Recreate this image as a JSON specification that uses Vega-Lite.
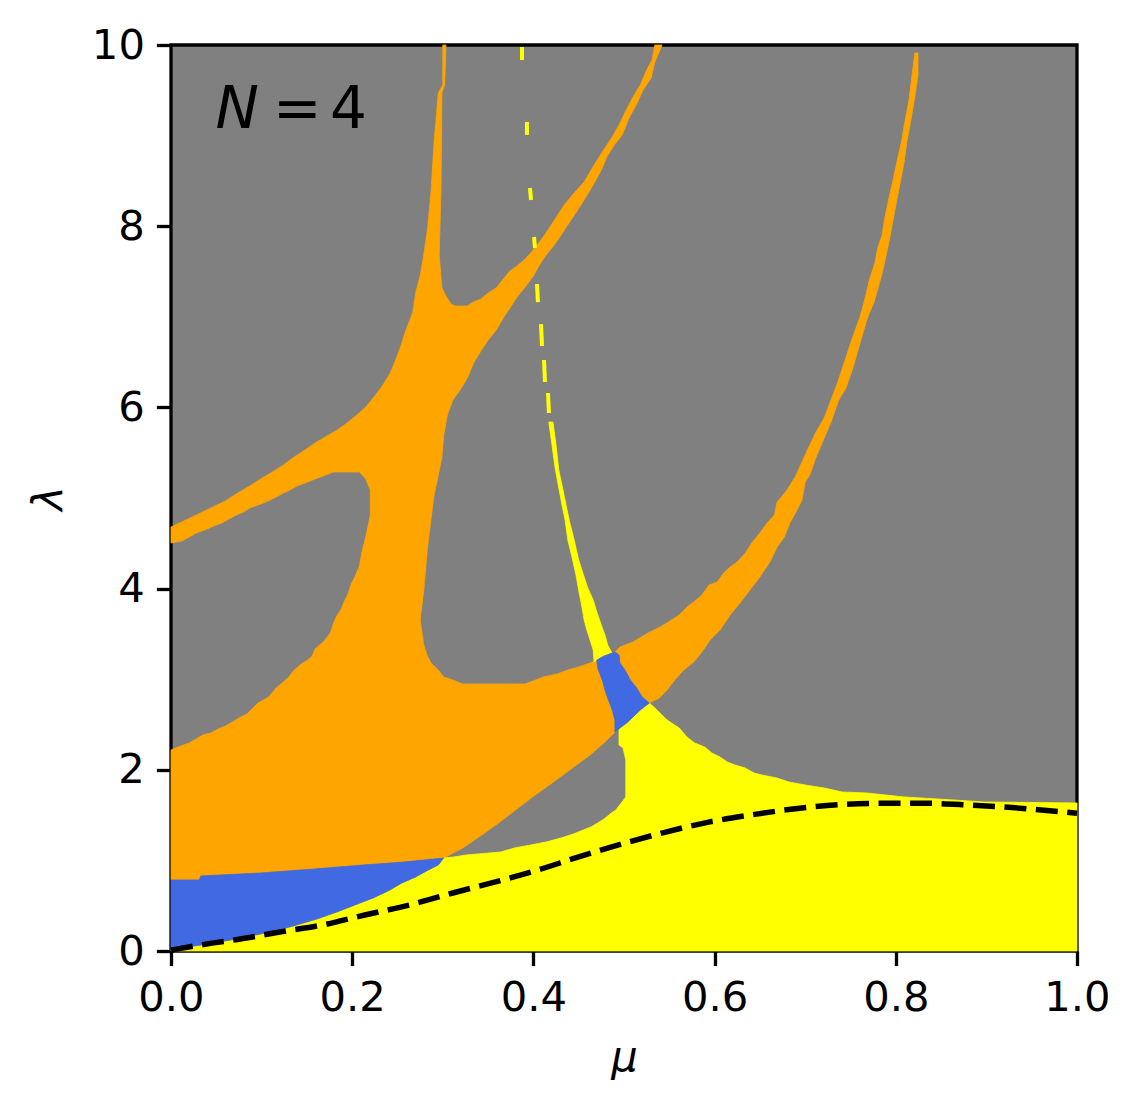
{
  "$schema": "https://vega.github.io/schema/vega-lite/v6.json",
  "autosize": {"type": "none"},
  "width": 906,
  "height": 906,
  "padding": {"left": 171, "top": 45, "right": 62, "bottom": 161},
  "background": "white",
  "config": {
    "view": {"stroke": "black", "strokeWidth": 3.3, "fill": "#808080"},
    "font": "DejaVu Sans",
    "axis": {
      "domain": false, "grid": false, "labelFlush": false, "labelOverlap": false,
      "ticks": true, "tickColor": "black", "tickWidth": 3.3, "tickSize": 14.6,
      "labelFont": "DejaVu Sans", "labelFontSize": 41.7, "labelColor": "black", "labelPadding": 12,
      "titleFont": "DejaVu Sans", "titleFontSize": 41.7, "titleFontStyle": "italic", "titleFontWeight": "normal", "titleColor": "black"
    }
  },
  "datasets": {
    "poly": [
      {"id":"O1","i":1,"mu":0,"lam":0.784},{"id":"O1","i":2,"mu":0,"lam":2.219},{"id":"O1","i":3,"mu":0.011,"lam":2.263},{"id":"O1","i":4,"mu":0.020,"lam":2.296},{"id":"O1","i":5,"mu":0.028,"lam":2.340},{"id":"O1","i":6,"mu":0.035,"lam":2.384},{"id":"O1","i":7,"mu":0.044,"lam":2.406},{"id":"O1","i":8,"mu":0.052,"lam":2.450},{"id":"O1","i":9,"mu":0.060,"lam":2.483},{"id":"O1","i":10,"mu":0.068,"lam":2.528},
      {"id":"O1","i":11,"mu":0.075,"lam":2.572},{"id":"O1","i":12,"mu":0.084,"lam":2.616},{"id":"O1","i":13,"mu":0.096,"lam":2.737},{"id":"O1","i":14,"mu":0.108,"lam":2.804},{"id":"O1","i":15,"mu":0.116,"lam":2.903},{"id":"O1","i":16,"mu":0.124,"lam":2.969},{"id":"O1","i":17,"mu":0.130,"lam":3.024},{"id":"O1","i":18,"mu":0.136,"lam":3.102},{"id":"O1","i":19,"mu":0.144,"lam":3.168},{"id":"O1","i":20,"mu":0.151,"lam":3.212},
      {"id":"O1","i":21,"mu":0.156,"lam":3.256},{"id":"O1","i":22,"mu":0.159,"lam":3.333},{"id":"O1","i":23,"mu":0.168,"lam":3.411},{"id":"O1","i":24,"mu":0.176,"lam":3.510},{"id":"O1","i":25,"mu":0.179,"lam":3.609},{"id":"O1","i":26,"mu":0.183,"lam":3.698},{"id":"O1","i":27,"mu":0.188,"lam":3.775},{"id":"O1","i":28,"mu":0.191,"lam":3.852},{"id":"O1","i":29,"mu":0.195,"lam":3.929},{"id":"O1","i":30,"mu":0.199,"lam":4.051},
      {"id":"O1","i":31,"mu":0.203,"lam":4.128},{"id":"O1","i":32,"mu":0.208,"lam":4.249},{"id":"O1","i":33,"mu":0.211,"lam":4.415},{"id":"O1","i":34,"mu":0.215,"lam":4.570},{"id":"O1","i":35,"mu":0.220,"lam":4.812},{"id":"O1","i":36,"mu":0.220,"lam":5.088},{"id":"O1","i":37,"mu":0.215,"lam":5.210},{"id":"O1","i":38,"mu":0.212,"lam":5.243},{"id":"O1","i":39,"mu":0.208,"lam":5.287},{"id":"O1","i":40,"mu":0.179,"lam":5.287},
      {"id":"O1","i":41,"mu":0.168,"lam":5.243},{"id":"O1","i":42,"mu":0.159,"lam":5.210},{"id":"O1","i":43,"mu":0.148,"lam":5.166},{"id":"O1","i":44,"mu":0.139,"lam":5.132},{"id":"O1","i":45,"mu":0.131,"lam":5.088},{"id":"O1","i":46,"mu":0.124,"lam":5.055},{"id":"O1","i":47,"mu":0.116,"lam":5.011},{"id":"O1","i":48,"mu":0.107,"lam":4.967},{"id":"O1","i":49,"mu":0.099,"lam":4.934},{"id":"O1","i":50,"mu":0.087,"lam":4.890},
      {"id":"O1","i":51,"mu":0.080,"lam":4.845},{"id":"O1","i":52,"mu":0.072,"lam":4.812},{"id":"O1","i":53,"mu":0.064,"lam":4.768},{"id":"O1","i":54,"mu":0.056,"lam":4.724},{"id":"O1","i":55,"mu":0.047,"lam":4.691},{"id":"O1","i":56,"mu":0.040,"lam":4.658},{"id":"O1","i":57,"mu":0.028,"lam":4.614},{"id":"O1","i":58,"mu":0.020,"lam":4.570},{"id":"O1","i":59,"mu":0.012,"lam":4.525},{"id":"O1","i":60,"mu":0,"lam":4.503},
      {"id":"O1","i":61,"mu":0,"lam":4.680},{"id":"O1","i":62,"mu":0.012,"lam":4.735},{"id":"O1","i":63,"mu":0.028,"lam":4.812},{"id":"O1","i":64,"mu":0.044,"lam":4.890},{"id":"O1","i":65,"mu":0.060,"lam":4.967},{"id":"O1","i":66,"mu":0.072,"lam":5.044},{"id":"O1","i":67,"mu":0.087,"lam":5.132},{"id":"O1","i":68,"mu":0.099,"lam":5.210},{"id":"O1","i":69,"mu":0.112,"lam":5.287},{"id":"O1","i":70,"mu":0.124,"lam":5.364},
      {"id":"O1","i":71,"mu":0.136,"lam":5.453},{"id":"O1","i":72,"mu":0.148,"lam":5.530},{"id":"O1","i":73,"mu":0.159,"lam":5.607},{"id":"O1","i":74,"mu":0.172,"lam":5.684},{"id":"O1","i":75,"mu":0.182,"lam":5.740},{"id":"O1","i":76,"mu":0.193,"lam":5.817},{"id":"O1","i":77,"mu":0.204,"lam":5.905},{"id":"O1","i":78,"mu":0.215,"lam":6.004},{"id":"O1","i":79,"mu":0.225,"lam":6.126},{"id":"O1","i":80,"mu":0.234,"lam":6.247},
      {"id":"O1","i":81,"mu":0.242,"lam":6.380},{"id":"O1","i":82,"mu":0.248,"lam":6.523},{"id":"O1","i":83,"mu":0.253,"lam":6.656},{"id":"O1","i":84,"mu":0.259,"lam":6.843},{"id":"O1","i":85,"mu":0.267,"lam":7.053},{"id":"O1","i":86,"mu":0.270,"lam":7.263},{"id":"O1","i":87,"mu":0.275,"lam":7.450},{"id":"O1","i":88,"mu":0.279,"lam":7.682},{"id":"O1","i":89,"mu":0.283,"lam":7.958},{"id":"O1","i":90,"mu":0.287,"lam":8.377},
      {"id":"O1","i":91,"mu":0.290,"lam":8.874},{"id":"O1","i":92,"mu":0.295,"lam":9.470},{"id":"O1","i":93,"mu":0.300,"lam":9.558},{"id":"O1","i":94,"mu":0.300,"lam":10},{"id":"O1","i":95,"mu":0.3035,"lam":10},{"id":"O1","i":96,"mu":0.302,"lam":9.558},{"id":"O1","i":97,"mu":0.299,"lam":9.470},{"id":"O1","i":98,"mu":0.298,"lam":8.400},{"id":"O1","i":99,"mu":0.296,"lam":7.682},{"id":"O1","i":100,"mu":0.299,"lam":7.318},
      {"id":"O1","i":101,"mu":0.3035,"lam":7.230},{"id":"O1","i":102,"mu":0.309,"lam":7.141},{"id":"O1","i":103,"mu":0.3135,"lam":7.119},{"id":"O1","i":104,"mu":0.327,"lam":7.119},{"id":"O1","i":105,"mu":0.334,"lam":7.163},{"id":"O1","i":106,"mu":0.342,"lam":7.196},{"id":"O1","i":107,"mu":0.350,"lam":7.263},{"id":"O1","i":108,"mu":0.359,"lam":7.318},{"id":"O1","i":109,"mu":0.366,"lam":7.406},{"id":"O1","i":110,"mu":0.374,"lam":7.506},
      {"id":"O1","i":111,"mu":0.382,"lam":7.561},{"id":"O1","i":112,"mu":0.391,"lam":7.638},{"id":"O1","i":113,"mu":0.400,"lam":7.737},{"id":"O1","i":114,"mu":0.406,"lam":7.815},{"id":"O1","i":115,"mu":0.414,"lam":7.925},{"id":"O1","i":116,"mu":0.434,"lam":8.234},{"id":"O1","i":117,"mu":0.445,"lam":8.366},{"id":"O1","i":118,"mu":0.456,"lam":8.488},{"id":"O1","i":119,"mu":0.467,"lam":8.675},{"id":"O1","i":120,"mu":0.476,"lam":8.819},
      {"id":"O1","i":121,"mu":0.487,"lam":8.985},{"id":"O1","i":122,"mu":0.4945,"lam":9.117},{"id":"O1","i":123,"mu":0.502,"lam":9.272},{"id":"O1","i":124,"mu":0.510,"lam":9.426},{"id":"O1","i":125,"mu":0.518,"lam":9.558},{"id":"O1","i":126,"mu":0.525,"lam":9.724},{"id":"O1","i":127,"mu":0.531,"lam":9.834},{"id":"O1","i":128,"mu":0.534,"lam":10},{"id":"O1","i":129,"mu":0.542,"lam":10},{"id":"O1","i":130,"mu":0.534,"lam":9.812},
      {"id":"O1","i":131,"mu":0.530,"lam":9.636},{"id":"O1","i":132,"mu":0.521,"lam":9.503},{"id":"O1","i":133,"mu":0.514,"lam":9.349},{"id":"O1","i":134,"mu":0.5055,"lam":9.194},{"id":"O1","i":135,"mu":0.498,"lam":9.007},{"id":"O1","i":136,"mu":0.490,"lam":8.907},{"id":"O1","i":137,"mu":0.481,"lam":8.764},{"id":"O1","i":138,"mu":0.475,"lam":8.620},{"id":"O1","i":139,"mu":0.464,"lam":8.422},{"id":"O1","i":140,"mu":0.4525,"lam":8.234},
      {"id":"O1","i":141,"mu":0.440,"lam":8.046},{"id":"O1","i":142,"mu":0.4305,"lam":7.903},{"id":"O1","i":143,"mu":0.423,"lam":7.792},{"id":"O1","i":144,"mu":0.414,"lam":7.682},{"id":"O1","i":145,"mu":0.406,"lam":7.561},{"id":"O1","i":146,"mu":0.400,"lam":7.450},{"id":"O1","i":147,"mu":0.391,"lam":7.329},{"id":"O1","i":148,"mu":0.382,"lam":7.219},{"id":"O1","i":149,"mu":0.374,"lam":7.097},{"id":"O1","i":150,"mu":0.366,"lam":6.976},
      {"id":"O1","i":151,"mu":0.359,"lam":6.854},{"id":"O1","i":152,"mu":0.350,"lam":6.744},{"id":"O1","i":153,"mu":0.342,"lam":6.623},{"id":"O1","i":154,"mu":0.334,"lam":6.490},{"id":"O1","i":155,"mu":0.327,"lam":6.325},{"id":"O1","i":156,"mu":0.319,"lam":6.192},{"id":"O1","i":157,"mu":0.311,"lam":6.082},{"id":"O1","i":158,"mu":0.305,"lam":5.916},{"id":"O1","i":159,"mu":0.301,"lam":5.695},{"id":"O1","i":160,"mu":0.299,"lam":5.453},
      {"id":"O1","i":161,"mu":0.295,"lam":5.254},{"id":"O1","i":162,"mu":0.290,"lam":5.011},{"id":"O1","i":163,"mu":0.287,"lam":4.768},{"id":"O1","i":164,"mu":0.283,"lam":4.448},{"id":"O1","i":165,"mu":0.279,"lam":3.985},{"id":"O1","i":166,"mu":0.275,"lam":3.653},{"id":"O1","i":167,"mu":0.279,"lam":3.377},{"id":"O1","i":168,"mu":0.283,"lam":3.256},{"id":"O1","i":169,"mu":0.287,"lam":3.179},{"id":"O1","i":170,"mu":0.295,"lam":3.102},
      {"id":"O1","i":171,"mu":0.301,"lam":3.024},{"id":"O1","i":172,"mu":0.311,"lam":2.991},{"id":"O1","i":173,"mu":0.322,"lam":2.947},{"id":"O1","i":174,"mu":0.391,"lam":2.947},{"id":"O1","i":175,"mu":0.411,"lam":3.024},{"id":"O1","i":176,"mu":0.426,"lam":3.057},{"id":"O1","i":177,"mu":0.438,"lam":3.102},{"id":"O1","i":178,"mu":0.450,"lam":3.135},{"id":"O1","i":179,"mu":0.4625,"lam":3.179},{"id":"O1","i":180,"mu":0.470,"lam":3.212},
      {"id":"O1","i":181,"mu":0.471,"lam":3.124},{"id":"O1","i":182,"mu":0.476,"lam":2.991},{"id":"O1","i":183,"mu":0.479,"lam":2.881},{"id":"O1","i":184,"mu":0.482,"lam":2.792},{"id":"O1","i":185,"mu":0.487,"lam":2.660},{"id":"O1","i":186,"mu":0.490,"lam":2.550},{"id":"O1","i":187,"mu":0.490,"lam":2.417},{"id":"O1","i":188,"mu":0.479,"lam":2.307},{"id":"O1","i":189,"mu":0.4625,"lam":2.163},{"id":"O1","i":190,"mu":0.443,"lam":2.020},
      {"id":"O1","i":191,"mu":0.422,"lam":1.865},{"id":"O1","i":192,"mu":0.402,"lam":1.722},{"id":"O1","i":193,"mu":0.383,"lam":1.578},{"id":"O1","i":194,"mu":0.363,"lam":1.424},{"id":"O1","i":195,"mu":0.343,"lam":1.280},{"id":"O1","i":196,"mu":0.322,"lam":1.137},{"id":"O1","i":197,"mu":0.301,"lam":1.026},{"id":"O1","i":198,"mu":0.257,"lam":0.982},{"id":"O1","i":199,"mu":0.212,"lam":0.949},{"id":"O1","i":200,"mu":0.158,"lam":0.905},
      {"id":"O1","i":201,"mu":0.099,"lam":0.861},{"id":"O1","i":202,"mu":0.033,"lam":0.828},{"id":"O1","i":203,"mu":0.031,"lam":0.784},

      {"id":"O2","i":1,"mu":0.528,"lam":2.737},{"id":"O2","i":2,"mu":0.539,"lam":2.792},{"id":"O2","i":3,"mu":0.5475,"lam":2.881},{"id":"O2","i":4,"mu":0.556,"lam":2.991},{"id":"O2","i":5,"mu":0.566,"lam":3.102},{"id":"O2","i":6,"mu":0.577,"lam":3.190},{"id":"O2","i":7,"mu":0.586,"lam":3.300},{"id":"O2","i":8,"mu":0.595,"lam":3.433},{"id":"O2","i":9,"mu":0.606,"lam":3.543},{"id":"O2","i":10,"mu":0.617,"lam":3.709},
      {"id":"O2","i":11,"mu":0.628,"lam":3.841},{"id":"O2","i":12,"mu":0.639,"lam":3.985},{"id":"O2","i":13,"mu":0.650,"lam":4.128},{"id":"O2","i":14,"mu":0.661,"lam":4.294},{"id":"O2","i":15,"mu":0.669,"lam":4.459},{"id":"O2","i":16,"mu":0.677,"lam":4.570},{"id":"O2","i":17,"mu":0.683,"lam":4.724},{"id":"O2","i":18,"mu":0.691,"lam":4.868},{"id":"O2","i":19,"mu":0.6965,"lam":4.978},{"id":"O2","i":20,"mu":0.700,"lam":5.177},
      {"id":"O2","i":21,"mu":0.705,"lam":5.254},{"id":"O2","i":22,"mu":0.712,"lam":5.453},{"id":"O2","i":23,"mu":0.721,"lam":5.662},{"id":"O2","i":24,"mu":0.7285,"lam":5.839},{"id":"O2","i":25,"mu":0.737,"lam":6.082},{"id":"O2","i":26,"mu":0.745,"lam":6.214},{"id":"O2","i":27,"mu":0.753,"lam":6.446},{"id":"O2","i":28,"mu":0.7605,"lam":6.711},{"id":"O2","i":29,"mu":0.769,"lam":6.998},{"id":"O2","i":30,"mu":0.776,"lam":7.163},
      {"id":"O2","i":31,"mu":0.785,"lam":7.483},{"id":"O2","i":32,"mu":0.7925,"lam":7.826},{"id":"O2","i":33,"mu":0.800,"lam":8.234},{"id":"O2","i":34,"mu":0.805,"lam":8.488},{"id":"O2","i":35,"mu":0.809,"lam":8.698},{"id":"O2","i":36,"mu":0.812,"lam":8.918},{"id":"O2","i":37,"mu":0.817,"lam":9.194},{"id":"O2","i":38,"mu":0.821,"lam":9.426},{"id":"O2","i":39,"mu":0.8245,"lam":9.669},{"id":"O2","i":40,"mu":0.8245,"lam":9.912},
      {"id":"O2","i":41,"mu":0.821,"lam":9.912},{"id":"O2","i":42,"mu":0.818,"lam":9.669},{"id":"O2","i":43,"mu":0.8146,"lam":9.393},{"id":"O2","i":44,"mu":0.810,"lam":9.150},{"id":"O2","i":45,"mu":0.806,"lam":8.918},{"id":"O2","i":46,"mu":0.801,"lam":8.698},{"id":"O2","i":47,"mu":0.797,"lam":8.510},{"id":"O2","i":48,"mu":0.7925,"lam":8.311},{"id":"O2","i":49,"mu":0.788,"lam":8.102},{"id":"O2","i":50,"mu":0.785,"lam":7.903},
      {"id":"O2","i":51,"mu":0.780,"lam":7.759},{"id":"O2","i":52,"mu":0.777,"lam":7.594},{"id":"O2","i":53,"mu":0.7715,"lam":7.428},{"id":"O2","i":54,"mu":0.765,"lam":7.163},{"id":"O2","i":55,"mu":0.7605,"lam":6.998},{"id":"O2","i":56,"mu":0.756,"lam":6.876},{"id":"O2","i":57,"mu":0.752,"lam":6.766},{"id":"O2","i":58,"mu":0.744,"lam":6.523},{"id":"O2","i":59,"mu":0.736,"lam":6.280},{"id":"O2","i":60,"mu":0.7285,"lam":6.082},
      {"id":"O2","i":61,"mu":0.721,"lam":5.883},{"id":"O2","i":62,"mu":0.712,"lam":5.728},{"id":"O2","i":63,"mu":0.704,"lam":5.563},{"id":"O2","i":64,"mu":0.6965,"lam":5.397},{"id":"O2","i":65,"mu":0.689,"lam":5.232},{"id":"O2","i":66,"mu":0.680,"lam":5.088},{"id":"O2","i":67,"mu":0.669,"lam":4.956},{"id":"O2","i":68,"mu":0.666,"lam":4.812},{"id":"O2","i":69,"mu":0.658,"lam":4.724},{"id":"O2","i":70,"mu":0.650,"lam":4.614},
      {"id":"O2","i":71,"mu":0.641,"lam":4.503},{"id":"O2","i":72,"mu":0.634,"lam":4.393},{"id":"O2","i":73,"mu":0.625,"lam":4.294},{"id":"O2","i":74,"mu":0.617,"lam":4.238},{"id":"O2","i":75,"mu":0.610,"lam":4.172},{"id":"O2","i":76,"mu":0.603,"lam":4.073},{"id":"O2","i":77,"mu":0.594,"lam":4.040},{"id":"O2","i":78,"mu":0.586,"lam":3.929},{"id":"O2","i":79,"mu":0.577,"lam":3.852},{"id":"O2","i":80,"mu":0.5695,"lam":3.797},
      {"id":"O2","i":81,"mu":0.561,"lam":3.709},{"id":"O2","i":82,"mu":0.549,"lam":3.631},{"id":"O2","i":83,"mu":0.540,"lam":3.576},{"id":"O2","i":84,"mu":0.5265,"lam":3.510},{"id":"O2","i":85,"mu":0.510,"lam":3.411},{"id":"O2","i":86,"mu":0.4955,"lam":3.355},{"id":"O2","i":87,"mu":0.490,"lam":3.300},{"id":"O2","i":88,"mu":0.4945,"lam":3.267},{"id":"O2","i":89,"mu":0.4955,"lam":3.179},{"id":"O2","i":90,"mu":0.501,"lam":3.102},
      {"id":"O2","i":91,"mu":0.507,"lam":2.991},{"id":"O2","i":92,"mu":0.514,"lam":2.903},{"id":"O2","i":93,"mu":0.520,"lam":2.804},{"id":"O2","i":94,"mu":0.525,"lam":2.748},

      {"id":"B1","i":1,"mu":0.470,"lam":3.212},{"id":"B1","i":2,"mu":0.478,"lam":3.256},{"id":"B1","i":3,"mu":0.490,"lam":3.300},{"id":"B1","i":4,"mu":0.4945,"lam":3.267},{"id":"B1","i":5,"mu":0.4955,"lam":3.179},{"id":"B1","i":6,"mu":0.501,"lam":3.102},{"id":"B1","i":7,"mu":0.507,"lam":2.991},{"id":"B1","i":8,"mu":0.514,"lam":2.903},{"id":"B1","i":9,"mu":0.520,"lam":2.804},{"id":"B1","i":10,"mu":0.528,"lam":2.737},
      {"id":"B1","i":11,"mu":0.518,"lam":2.660},{"id":"B1","i":12,"mu":0.510,"lam":2.583},{"id":"B1","i":13,"mu":0.503,"lam":2.517},{"id":"B1","i":14,"mu":0.4955,"lam":2.461},{"id":"B1","i":15,"mu":0.490,"lam":2.417},{"id":"B1","i":16,"mu":0.490,"lam":2.550},{"id":"B1","i":17,"mu":0.487,"lam":2.660},{"id":"B1","i":18,"mu":0.482,"lam":2.792},{"id":"B1","i":19,"mu":0.479,"lam":2.881},{"id":"B1","i":20,"mu":0.476,"lam":2.991},{"id":"B1","i":21,"mu":0.471,"lam":3.124},

      {"id":"B2","i":1,"mu":0,"lam":0.784},{"id":"B2","i":2,"mu":0.031,"lam":0.784},{"id":"B2","i":3,"mu":0.033,"lam":0.828},{"id":"B2","i":4,"mu":0.099,"lam":0.861},{"id":"B2","i":5,"mu":0.158,"lam":0.905},{"id":"B2","i":6,"mu":0.212,"lam":0.949},{"id":"B2","i":7,"mu":0.257,"lam":0.982},{"id":"B2","i":8,"mu":0.301,"lam":1.026},{"id":"B2","i":9,"mu":0.295,"lam":0.949},{"id":"B2","i":10,"mu":0.284,"lam":0.894},
      {"id":"B2","i":11,"mu":0.270,"lam":0.817},{"id":"B2","i":12,"mu":0.255,"lam":0.751},{"id":"B2","i":13,"mu":0.2395,"lam":0.662},{"id":"B2","i":14,"mu":0.223,"lam":0.585},{"id":"B2","i":15,"mu":0.203,"lam":0.508},{"id":"B2","i":16,"mu":0.183,"lam":0.430},{"id":"B2","i":17,"mu":0.161,"lam":0.353},{"id":"B2","i":18,"mu":0.131,"lam":0.265},{"id":"B2","i":19,"mu":0.099,"lam":0.188},{"id":"B2","i":20,"mu":0.066,"lam":0.121},
      {"id":"B2","i":21,"mu":0.033,"lam":0.066},{"id":"B2","i":22,"mu":0.011,"lam":0.033},{"id":"B2","i":23,"mu":0,"lam":0.011},

      {"id":"Y1","i":1,"mu":0,"lam":0},{"id":"Y1","i":2,"mu":0,"lam":0.011},{"id":"Y1","i":3,"mu":0.011,"lam":0.033},{"id":"Y1","i":4,"mu":0.033,"lam":0.066},{"id":"Y1","i":5,"mu":0.066,"lam":0.121},{"id":"Y1","i":6,"mu":0.099,"lam":0.188},{"id":"Y1","i":7,"mu":0.131,"lam":0.265},{"id":"Y1","i":8,"mu":0.161,"lam":0.353},{"id":"Y1","i":9,"mu":0.183,"lam":0.430},{"id":"Y1","i":10,"mu":0.203,"lam":0.508},
      {"id":"Y1","i":11,"mu":0.223,"lam":0.585},{"id":"Y1","i":12,"mu":0.2395,"lam":0.662},{"id":"Y1","i":13,"mu":0.255,"lam":0.751},{"id":"Y1","i":14,"mu":0.270,"lam":0.817},{"id":"Y1","i":15,"mu":0.284,"lam":0.894},{"id":"Y1","i":16,"mu":0.295,"lam":0.949},{"id":"Y1","i":17,"mu":0.301,"lam":1.026},{"id":"Y1","i":18,"mu":0.312,"lam":1.038},{"id":"Y1","i":19,"mu":0.326,"lam":1.060},{"id":"Y1","i":20,"mu":0.364,"lam":1.093},
      {"id":"Y1","i":21,"mu":0.379,"lam":1.137},{"id":"Y1","i":22,"mu":0.397,"lam":1.170},{"id":"Y1","i":23,"mu":0.414,"lam":1.203},{"id":"Y1","i":24,"mu":0.4305,"lam":1.247},{"id":"Y1","i":25,"mu":0.444,"lam":1.291},{"id":"Y1","i":26,"mu":0.455,"lam":1.336},{"id":"Y1","i":27,"mu":0.4636,"lam":1.369},{"id":"Y1","i":28,"mu":0.471,"lam":1.413},{"id":"Y1","i":29,"mu":0.478,"lam":1.457},{"id":"Y1","i":30,"mu":0.486,"lam":1.523},
      {"id":"Y1","i":31,"mu":0.491,"lam":1.556},{"id":"Y1","i":32,"mu":0.497,"lam":1.634},{"id":"Y1","i":33,"mu":0.502,"lam":1.700},{"id":"Y1","i":34,"mu":0.502,"lam":2.108},{"id":"Y1","i":35,"mu":0.499,"lam":2.241},{"id":"Y1","i":36,"mu":0.4945,"lam":2.274},{"id":"Y1","i":37,"mu":0.4945,"lam":2.439},{"id":"Y1","i":38,"mu":0.4955,"lam":2.461},{"id":"Y1","i":39,"mu":0.503,"lam":2.517},{"id":"Y1","i":40,"mu":0.510,"lam":2.583},
      {"id":"Y1","i":41,"mu":0.518,"lam":2.660},{"id":"Y1","i":42,"mu":0.528,"lam":2.737},{"id":"Y1","i":43,"mu":0.5364,"lam":2.660},{"id":"Y1","i":44,"mu":0.5475,"lam":2.550},{"id":"Y1","i":45,"mu":0.561,"lam":2.461},{"id":"Y1","i":46,"mu":0.5695,"lam":2.362},{"id":"Y1","i":47,"mu":0.578,"lam":2.296},{"id":"Y1","i":48,"mu":0.589,"lam":2.252},{"id":"Y1","i":49,"mu":0.597,"lam":2.185},{"id":"Y1","i":50,"mu":0.606,"lam":2.141},
      {"id":"Y1","i":51,"mu":0.614,"lam":2.086},{"id":"Y1","i":52,"mu":0.6225,"lam":2.053},{"id":"Y1","i":53,"mu":0.6336,"lam":2.020},{"id":"Y1","i":54,"mu":0.6435,"lam":1.965},{"id":"Y1","i":55,"mu":0.652,"lam":1.943},{"id":"Y1","i":56,"mu":0.669,"lam":1.909},{"id":"Y1","i":57,"mu":0.682,"lam":1.865},{"id":"Y1","i":58,"mu":0.700,"lam":1.832},{"id":"Y1","i":59,"mu":0.721,"lam":1.799},{"id":"Y1","i":60,"mu":0.7406,"lam":1.755},
      {"id":"Y1","i":61,"mu":0.768,"lam":1.744},{"id":"Y1","i":62,"mu":0.809,"lam":1.700},{"id":"Y1","i":63,"mu":0.864,"lam":1.667},{"id":"Y1","i":64,"mu":0.897,"lam":1.645},{"id":"Y1","i":65,"mu":1.0,"lam":1.634},{"id":"Y1","i":66,"mu":1.0,"lam":0},

      {"id":"Y2","i":1,"mu":0.417,"lam":5.839},{"id":"Y2","i":2,"mu":0.4205,"lam":5.585},{"id":"Y2","i":3,"mu":0.424,"lam":5.331},{"id":"Y2","i":4,"mu":0.428,"lam":5.110},{"id":"Y2","i":5,"mu":0.4316,"lam":4.923},{"id":"Y2","i":6,"mu":0.435,"lam":4.757},{"id":"Y2","i":7,"mu":0.438,"lam":4.536},{"id":"Y2","i":8,"mu":0.4426,"lam":4.349},{"id":"Y2","i":9,"mu":0.447,"lam":4.150},{"id":"Y2","i":10,"mu":0.4503,"lam":3.962},
      {"id":"Y2","i":11,"mu":0.4536,"lam":3.797},{"id":"Y2","i":12,"mu":0.456,"lam":3.653},{"id":"Y2","i":13,"mu":0.459,"lam":3.543},{"id":"Y2","i":14,"mu":0.4625,"lam":3.433},{"id":"Y2","i":15,"mu":0.466,"lam":3.322},{"id":"Y2","i":16,"mu":0.467,"lam":3.190},{"id":"Y2","i":17,"mu":0.470,"lam":3.212},{"id":"Y2","i":18,"mu":0.478,"lam":3.256},{"id":"Y2","i":19,"mu":0.4868,"lam":3.289},{"id":"Y2","i":20,"mu":0.482,"lam":3.377},
      {"id":"Y2","i":21,"mu":0.479,"lam":3.488},{"id":"Y2","i":22,"mu":0.4757,"lam":3.576},{"id":"Y2","i":23,"mu":0.470,"lam":3.742},{"id":"Y2","i":24,"mu":0.466,"lam":3.874},{"id":"Y2","i":25,"mu":0.460,"lam":4.007},{"id":"Y2","i":26,"mu":0.456,"lam":4.128},{"id":"Y2","i":27,"mu":0.450,"lam":4.316},{"id":"Y2","i":28,"mu":0.445,"lam":4.536},{"id":"Y2","i":29,"mu":0.440,"lam":4.735},{"id":"Y2","i":30,"mu":0.436,"lam":4.923},
      {"id":"Y2","i":31,"mu":0.4327,"lam":5.088},{"id":"Y2","i":32,"mu":0.428,"lam":5.309},{"id":"Y2","i":33,"mu":0.425,"lam":5.585},{"id":"Y2","i":34,"mu":0.4216,"lam":5.839}
    ],
    "ydash": [
      {"seg":1,"i":1,"mu":0.3874,"lam":9.978},{"seg":1,"i":2,"mu":0.3874,"lam":9.834},
      {"seg":2,"i":1,"mu":0.3929,"lam":9.150},{"seg":2,"i":2,"mu":0.3929,"lam":9.007},
      {"seg":3,"i":1,"mu":0.3962,"lam":8.422},{"seg":3,"i":2,"mu":0.3974,"lam":8.289},
      {"seg":4,"i":1,"mu":0.4007,"lam":7.881},{"seg":4,"i":2,"mu":0.4018,"lam":7.759},
      {"seg":5,"i":1,"mu":0.4040,"lam":7.362},{"seg":5,"i":2,"mu":0.4050,"lam":7.163},
      {"seg":6,"i":1,"mu":0.4084,"lam":6.920},{"seg":6,"i":2,"mu":0.4095,"lam":6.678},
      {"seg":7,"i":1,"mu":0.4117,"lam":6.523},{"seg":7,"i":2,"mu":0.4128,"lam":6.280},
      {"seg":8,"i":1,"mu":0.4161,"lam":6.159},{"seg":8,"i":2,"mu":0.4172,"lam":5.938}
    ],
    "curve": [
      {"mu":0,"lam":0.01},{"mu":0.047,"lam":0.09},{"mu":0.072,"lam":0.125},{"mu":0.12,"lam":0.21},{"mu":0.169,"lam":0.29},{"mu":0.215,"lam":0.40},{"mu":0.264,"lam":0.51},{"mu":0.311,"lam":0.64},{"mu":0.357,"lam":0.76},{"mu":0.404,"lam":0.89},{"mu":0.45,"lam":1.04},{"mu":0.497,"lam":1.18},{"mu":0.545,"lam":1.31},{"mu":0.592,"lam":1.42},{"mu":0.639,"lam":1.50},{"mu":0.689,"lam":1.57},{"mu":0.737,"lam":1.615},{"mu":0.787,"lam":1.63},{"mu":0.834,"lam":1.63},{"mu":0.882,"lam":1.61},{"mu":0.932,"lam":1.58},{"mu":1.0,"lam":1.52}
    ]
  },
  "layer": [
    {
      "data": {"name": "poly"},
      "transform": [{"filter": {"field": "id", "oneOf": ["O1", "O2"]}}],
      "mark": {"type": "line", "interpolate": "linear-closed", "fill": "#FFA500", "stroke": "#FFA500", "strokeWidth": 0.8},
      "encoding": {
        "x": {"field": "mu", "type": "quantitative", "title": "μ", "scale": {"domain": [0, 1], "nice": false, "zero": false},
              "axis": {"title": "μ", "values": [0, 0.2, 0.4, 0.6, 0.8, 1.0], "format": ".1f", "titlePadding": 18}},
        "y": {"field": "lam", "type": "quantitative", "title": "λ", "scale": {"domain": [0, 10], "nice": false, "zero": false},
              "axis": {"title": "λ", "values": [0, 2, 4, 6, 8, 10], "format": "d", "titlePadding": 20}},
        "detail": {"field": "id"}, "order": {"field": "i", "type": "quantitative"}}
    },
    {
      "data": {"name": "poly"},
      "transform": [{"filter": {"field": "id", "oneOf": ["Y1", "Y2"]}}],
      "mark": {"type": "line", "interpolate": "linear-closed", "fill": "#FFFF00", "stroke": "#FFFF00", "strokeWidth": 0.8},
      "encoding": {
        "x": {"field": "mu", "type": "quantitative", "title": "μ"},
        "y": {"field": "lam", "type": "quantitative", "title": "λ"},
        "detail": {"field": "id"}, "order": {"field": "i", "type": "quantitative"}}
    },
    {
      "data": {"name": "poly"},
      "transform": [{"filter": {"field": "id", "oneOf": ["B1", "B2"]}}],
      "mark": {"type": "line", "interpolate": "linear-closed", "fill": "#4169E1", "stroke": "#4169E1", "strokeWidth": 0.8},
      "encoding": {
        "x": {"field": "mu", "type": "quantitative", "title": "μ"},
        "y": {"field": "lam", "type": "quantitative", "title": "λ"},
        "detail": {"field": "id"}, "order": {"field": "i", "type": "quantitative"}}
    },
    {
      "data": {"name": "ydash"},
      "mark": {"type": "line", "stroke": "#FFFF00", "strokeWidth": 4, "strokeCap": "butt"},
      "encoding": {
        "x": {"field": "mu", "type": "quantitative", "title": "μ"},
        "y": {"field": "lam", "type": "quantitative", "title": "λ"},
        "detail": {"field": "seg"}, "order": {"field": "i", "type": "quantitative"}}
    },
    {
      "data": {"name": "curve"},
      "mark": {"type": "line", "interpolate": "monotone", "stroke": "black", "strokeWidth": 5.5, "strokeDash": [22, 9.5], "strokeCap": "butt"},
      "encoding": {
        "x": {"field": "mu", "type": "quantitative", "title": "μ"},
        "y": {"field": "lam", "type": "quantitative", "title": "λ"},
        "order": {"field": "mu", "type": "quantitative"}}
    },
    {
      "data": {"values": [{"t": "N"}]},
      "mark": {"type": "text", "fontSize": 58, "fontStyle": "italic", "font": "DejaVu Sans", "align": "left", "baseline": "alphabetic", "color": "black"},
      "encoding": {"x": {"datum": 0.049}, "y": {"datum": 9.08}, "text": {"field": "t"}}
    },
    {
      "data": {"values": [{"t": "="}]},
      "mark": {"type": "text", "fontSize": 58, "font": "DejaVu Sans", "align": "left", "baseline": "alphabetic", "color": "black"},
      "encoding": {"x": {"datum": 0.1125}, "y": {"datum": 9.08}, "text": {"field": "t"}}
    },
    {
      "data": {"values": [{"t": "4"}]},
      "mark": {"type": "text", "fontSize": 58, "font": "DejaVu Sans", "align": "left", "baseline": "alphabetic", "color": "black"},
      "encoding": {"x": {"datum": 0.1755}, "y": {"datum": 9.08}, "text": {"field": "t"}}
    }
  ]
}
